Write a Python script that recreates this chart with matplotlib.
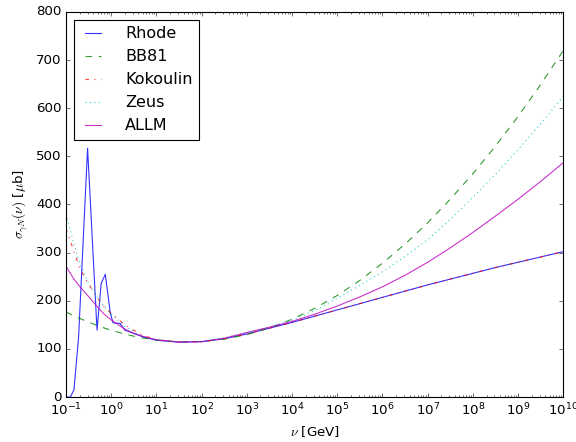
import numpy as np
import matplotlib
matplotlib.use("Agg")
import matplotlib.pyplot as plt

plt.style.use("classic")

# photon energy grid (GeV) for the smooth curves
nu = [0.1, 0.15, 0.2, 0.3, 0.5, 0.7, 1, 2, 3, 5, 10,
      10**1.5, 1e2, 10**2.5, 1e3, 10**3.5, 1e4, 10**4.5, 1e5, 10**5.5, 1e6,
      10**6.5, 1e7, 10**7.5, 1e8, 10**8.5, 1e9, 10**9.5, 1e10]

bb81 = [176.6, 168.7, 163.4, 156.4, 148.3, 143.4, 138.7, 130.7, 126.8, 122.6, 118.2,
        114.6, 115.2, 120.3, 129.7, 143.5, 161.6, 184.2, 211.0, 242.3, 278.0,
        317.9, 362.0, 411.0, 464.0, 521.4, 583.0, 649.6, 720.0]

zeus = [380, 318, 278, 240, 206, 188, 173, 147, 137, 125, 118,
        114, 116, 123, 134, 146, 159, 180, 205, 232, 260,
        292, 327, 369, 415, 463, 514, 568, 625]

allm = [271, 245, 230, 211, 187, 172, 160, 141, 133, 126, 119,
        114, 115, 122, 134, 145, 157, 172, 189, 208, 229,
        253, 280, 310, 342, 376, 411, 448, 487]

kokoulin = [350, 303, 268, 238, 205, 188, 174, 150, 140, 128, 119,
            114, 115, 121, 131, 143, 155, 168, 181, 194, 207,
            220, 233, 245, 257, 269, 280, 291, 302]

# Rhode has resonance structure at low energy
nu_rhode = [0.1, 0.125, 0.15, 0.19, 0.3, 0.485, 0.6, 0.74, 0.955, 1.1, 1.57, 2, 3, 5, 10,
            10**1.5, 1e2, 10**2.5, 1e3, 10**3.5, 1e4, 10**4.5, 1e5, 10**5.5, 1e6,
            10**6.5, 1e7, 10**7.5, 1e8, 10**8.5, 1e9, 10**9.5, 1e10]
rhode = [0, 0, 15, 125, 517, 139, 236, 255, 174, 154, 153, 139, 133, 125, 118,
         114, 115, 121, 131, 143, 155, 168, 181, 194, 207,
         220, 233, 245, 257, 269, 280, 291, 302]

fig = plt.figure(figsize=(7.2, 5.525), dpi=80, facecolor="white")
ax = fig.add_axes([0.1146, 0.1018, 0.8634, 0.8711])

ax.plot(nu_rhode, rhode, "b-", alpha=0.8, label="Rhode")
ax.plot(nu, bb81, "g--", alpha=0.8, label="BB81")
ax.plot(nu, kokoulin, "r-.", alpha=0.8, label="Kokoulin")
ax.plot(nu, zeus, "c:", alpha=0.8, label="Zeus")
ax.plot(nu, allm, "m-", alpha=0.8, label="ALLM")

ax.set_xscale("log")
ax.set_xlim(0.1, 1e10)
ax.set_ylim(0, 800)
ax.set_xticks([10.0**k for k in range(-1, 11)])
ax.set_xlabel(r"$\nu$ [GeV]")
ax.set_ylabel(r"$\sigma_{\gamma N}(\nu)$ [$\mu$b]")
ax.legend(loc="upper left", handlelength=1.6, handletextpad=1.2)

fig.savefig("out.png", dpi=80, facecolor="white")
